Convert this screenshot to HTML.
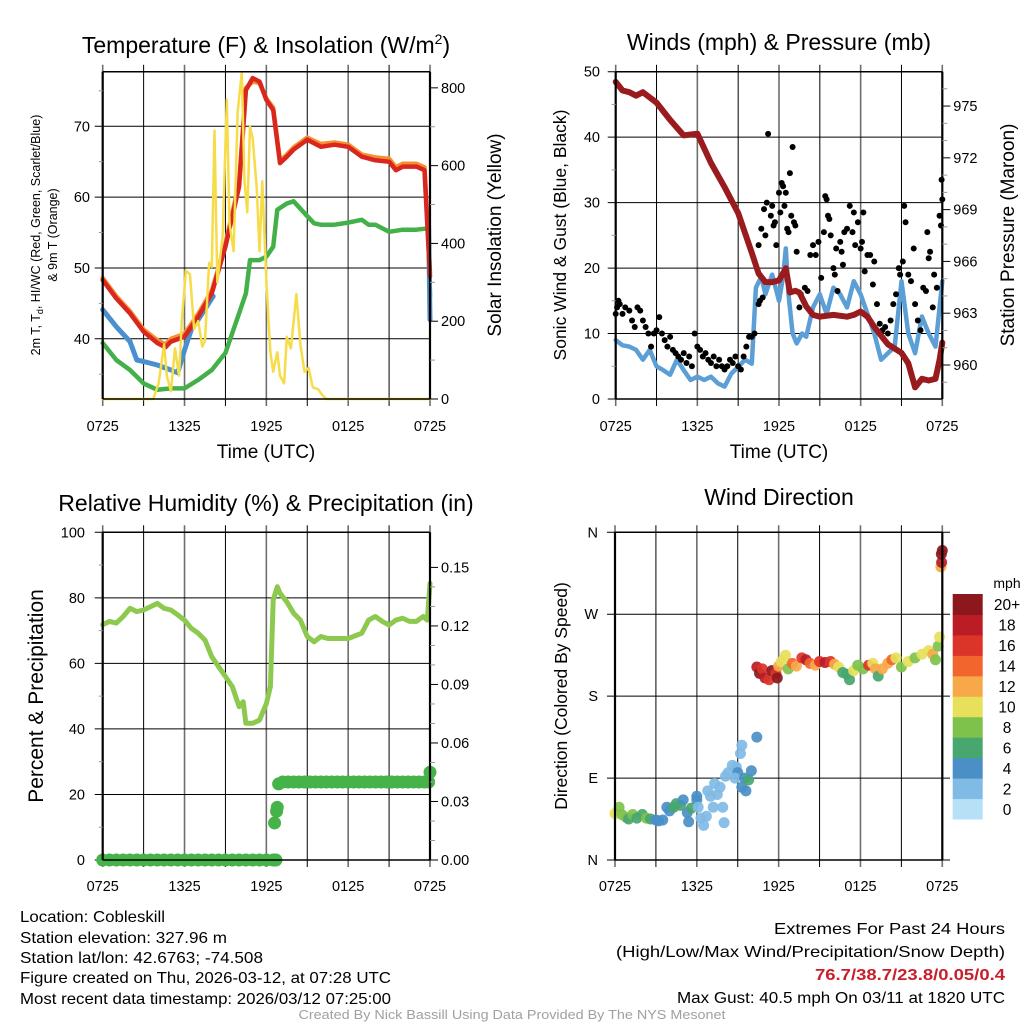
<!DOCTYPE html>
<html><head><meta charset="utf-8"><title>Cobleskill Meteogram</title>
<style>
html,body{margin:0;padding:0;background:#fff;}
svg{display:block;font-family:"Liberation Sans",Arial,sans-serif;}
</style></head>
<body>
<svg id="fig" xmlns="http://www.w3.org/2000/svg" width="1024" height="1024" viewBox="0 0 1024 1024">
<rect x="0" y="0" width="1024" height="1024" fill="#fff"/>
<g id="layer-grid"></g>
<g id="layer-data"></g>
<g id="layer-axes"></g>

<text x="266" y="53" font-size="23" text-anchor="middle">Temperature (F) &amp; Insolation (W/m<tspan dy="-9" font-size="14">2</tspan><tspan dy="9">)</tspan></text>
<text x="779" y="50" font-size="23" text-anchor="middle">Winds (mph) &amp; Pressure (mb)</text>
<text x="266" y="511" font-size="23" text-anchor="middle">Relative Humidity (%) &amp; Precipitation (in)</text>
<text x="779" y="505" font-size="23" text-anchor="middle">Wind Direction</text>

<text x="266" y="458" font-size="19" text-anchor="middle">Time (UTC)</text>
<text x="779" y="458" font-size="19" text-anchor="middle">Time (UTC)</text>

<text transform="translate(40,235) rotate(-90)" font-size="12.5" text-anchor="middle">2m T, T<tspan dy="3" font-size="9">d</tspan><tspan dy="-3">, HI/WC (Red, Green, Scarlet/Blue)</tspan></text>
<text transform="translate(57,235) rotate(-90)" font-size="12.5" text-anchor="middle">&amp; 9m T (Orange)</text>
<text transform="translate(501,235) rotate(-90)" font-size="19" text-anchor="middle">Solar Insolation (Yellow)</text>
<text transform="translate(566,235) rotate(-90)" font-size="17.5" text-anchor="middle">Sonic Wind &amp; Gust (Blue, Black)</text>
<text transform="translate(1014,235) rotate(-90)" font-size="19" text-anchor="middle">Station Pressure (Maroon)</text>
<text transform="translate(43,696) rotate(-90)" font-size="21" text-anchor="middle">Percent &amp; Precipitation</text>
<text transform="translate(567,696) rotate(-90)" font-size="17.5" text-anchor="middle">Direction (Colored By Speed)</text>

<text x="1007" y="588" font-size="14" text-anchor="middle">mph</text>

<g font-size="16">
<text x="20" y="922" textLength="145" lengthAdjust="spacingAndGlyphs">Location: Cobleskill</text>
<text x="20" y="943" textLength="207" lengthAdjust="spacingAndGlyphs">Station elevation: 327.96 m</text>
<text x="20" y="963" textLength="243" lengthAdjust="spacingAndGlyphs">Station lat/lon: 42.6763; -74.508</text>
<text x="20" y="983" textLength="371" lengthAdjust="spacingAndGlyphs">Figure created on Thu, 2026-03-12, at 07:28 UTC</text>
<text x="20" y="1004" textLength="371" lengthAdjust="spacingAndGlyphs">Most recent data timestamp: 2026/03/12 07:25:00</text>
</g>
<g font-size="16" text-anchor="end">
<text x="1005" y="934" textLength="231" lengthAdjust="spacingAndGlyphs">Extremes For Past 24 Hours</text>
<text x="1005" y="957" textLength="389" lengthAdjust="spacingAndGlyphs">(High/Low/Max Wind/Precipitation/Snow Depth)</text>
<text x="1005" y="980" font-weight="bold" fill="#c8202a" textLength="190" lengthAdjust="spacingAndGlyphs">76.7/38.7/23.8/0.05/0.4</text>
<text x="1005" y="1003" textLength="328" lengthAdjust="spacingAndGlyphs">Max Gust: 40.5 mph On 03/11 at 1820 UTC</text>
</g>
<text x="512" y="1019" font-size="13" fill="#a0a0a0" text-anchor="middle" textLength="427" lengthAdjust="spacingAndGlyphs">Created By Nick Bassill Using Data Provided By The NYS Mesonet</text>
</svg>

<script>
// ---------------- DATA (hours since 07:25 UTC) ----------------
var timeTickLabels = ["0725","1325","1925","0125","0725"];

var tempH   = [0,1,2,3,4,4.6,5,6,7,8,9,10,10.5,11,11.5,12,12.5,13,13.5,14,15,16,17,18,19,20,21,21.5,22,23,23.6,24];
var tempRed = [48.3,45.7,43.6,41,39.4,38.8,39.6,40.3,43.1,46.4,53,61.5,75.1,76.8,76.3,73.7,72.3,64.8,65.7,66.7,68.1,67.1,67.4,67.1,65.7,65.2,65,63.8,64.3,64.3,63.8,48.8];
var tempOrange = [48.6,46,43.9,41.3,39.8,39.2,40,40.7,43.5,46.8,53.4,62,75.4,76.3,76.1,73.9,72.6,65.1,66,67,68.4,67.5,67.7,67.4,66,65.6,65.4,64.2,64.7,64.7,64.2,49.3];
var hiwcH   = [0,1,2,2.5,3,4,5,5.5,6,6.5,7,8.1,null,23.9,24];
var hiwcV   = [44.1,41.7,39.6,37,36.8,36.3,35.6,35.2,38.4,41.3,42.7,46,null,55.8,42.7];
var dewH    = [0,1,2,3,4,5,6,7,8,9,10,10.5,10.8,11.5,12,12.5,12.8,13.5,14,15,15.5,16,17,18,19,19.5,20,21,22,23,23.9,24];
var dewV    = [39.4,37,35.6,33.7,32.8,33,33,34.2,35.6,38,43.6,46.4,51.1,51.1,51.6,53,58.2,59.1,59.4,57.3,56.3,56.1,56.1,56.4,56.8,56.1,56.1,55.1,55.4,55.4,55.6,46];
var solarH  = [0,3.7,4.1,4.5,4.7,5,5.3,5.6,5.8,6.1,6.4,6.7,7,7.3,7.5,7.8,8,8.2,8.4,8.8,9.1,9.3,9.6,9.9,10.2,10.4,10.6,10.8,11,11.3,11.5,11.7,12,12.3,12.5,12.8,13,13.3,13.5,13.8,14.2,14.5,14.8,15.1,15.4,15.8,16.1,16.4,24];
var solarV  = [0,0,40,140,60,20,130,60,200,330,320,180,200,135,150,350,340,690,300,420,770,450,380,740,840,560,480,700,670,540,380,560,300,120,70,120,60,40,160,130,270,140,70,80,30,25,10,0,0];

var windH   = [0,0.5,1,1.5,2,2.5,3,3.5,4,4.5,5,5.5,6,6.5,7,7.5,8,8.5,9,9.5,10,10.3,10.7,11,11.5,12,12.3,12.5,12.7,13,13.3,13.7,14,14.5,15,15.5,16,16.5,17,17.5,18,18.5,19,19.5,20,20.5,21,21.5,22,22.5,23,23.5,24];
var windV   = [9,8.2,8,7.5,6,7.5,5,4.4,3.7,6,4.4,2.9,3.4,2.9,3.4,2.4,1.9,3.9,4.9,6,5.4,17,18.7,16,19,15,18.7,23,16,10,8.5,10,9.5,14,16,13,17,16,14,18,16,13,10,6,7,8,18,10,7,12.6,10,8,18];
var gustH   = [0,0.1,0.2,0.3,0.5,0.7,1,1.2,1.4,1.6,1.8,2,2.2,2.4,2.6,2.8,3,3.2,3.4,3.6,3.8,4,4.2,4.4,4.6,4.8,5,5.2,5.4,5.6,5.8,6,6.2,6.4,6.6,6.8,7,7.2,7.4,7.6,7.8,8,8.2,8.4,8.6,8.8,9,9.2,9.4,9.6,9.8,10,10.2,10.5,10.6,10.8,10.5,10.7,10.9,11,11.1,11.2,11.4,11.5,11.6,11.7,11.8,12,12.1,12.2,12.3,12.4,12.5,12.6,12.7,12.8,12.9,13,13.1,13.2,13.3,13.5,13.6,13.9,14.1,14.3,14.5,14.7,14.9,15.1,15.3,15.4,15.5,15.6,15.7,15.8,16,16.1,16.2,16.3,16.5,16.6,16.7,16.8,17,17.2,17.4,17.5,17.6,17.8,18,18.1,18.2,18.3,18.5,18.7,18.9,19,19.2,19.4,19.6,19.8,20,20.2,20.4,20.6,20.8,20.9,21.1,21.2,21.3,21.5,21.7,21.9,22,22.2,22.4,22.6,22.8,22.9,23,23.1,23.3,23.4,23.6,23.8,23.9,23.95,24];
var gustV   = [13,14,15,14.5,13,14,13.5,12,11,14,13.5,12,11,10,8,10,10.5,12.5,10,9,8,9.5,7.5,7,6.5,6,7,5.5,6.5,5,10,8,7.5,6.5,7,6,5.5,6.5,5,6,5,4.5,5,6,5.5,6.5,5,4.5,6.5,8,9.5,9.5,10,14.5,15,15.5,23.5,26,29,25,30,40.5,28,29.5,26.5,27,23.5,31.5,28.5,33,32.5,29.5,31.5,26,25.5,34.5,28,38.5,27,26.5,22.5,14,16,17,16.5,22,23.5,22,24,18.5,25.5,31,30.5,28,27.5,25,20,19,23,16.5,24,22.5,20.5,25.5,26,29.5,25.5,28.5,23.5,27,23,24,28.5,19.5,22,22,17.5,21,14.5,11.5,10.5,11,10,12,14.5,16,20,19,21,29.5,27,19,18,23,14.5,12,10.5,17,16.5,25.5,21.5,22.5,14,19,17,28,26.5,33.5,30.5];
var presH   = [0,0.5,1,1.5,2,3,4,5,6,7,8,9,10,10.5,11,11.5,12,12.5,12.8,13.2,13.5,14,14.5,15,16,17,17.5,18,18.5,19,20,21,21.5,22,22.5,23,23.5,23.8,24];
var presV   = [976.4,975.9,975.8,975.6,975.8,975.2,974.2,973.3,973.4,971.7,970.3,968.8,966.5,965.3,964.8,964.8,964.9,965.6,964.2,964.3,964.2,963.4,962.9,962.8,962.9,962.8,962.9,963.1,962.8,962.2,961.2,960.7,960.1,958.7,959.2,959.1,959.2,960.3,961.3];

var rhH     = [0,0.5,1,1.5,2,2.5,3,3.5,4,4.5,5,5.5,6,6.5,7,7.5,8,8.5,9,9.5,10,10.3,10.5,11,11.5,12,12.3,12.5,12.8,13,13.5,14,14.5,15,15.5,16,16.5,17,18,19,19.5,20,20.5,21,21.5,22,22.5,23,23.5,23.8,24];
var rhV     = [71.8,72.8,72.3,74.3,76.8,75.8,76.3,77.3,78.3,76.8,76.3,74.8,73.2,70.7,69.2,67.1,62,59,56,52.9,46.8,48.3,41.7,41.7,42.7,47.8,52.9,79.3,83.4,81.4,78.8,75.3,73.2,68.2,66.6,68.2,67.6,67.6,67.6,69.2,73.2,74.3,72.8,71.7,73.2,73.8,72.8,72.8,74.3,73.2,84.4];
var precipH = [0,0.5,1,1.5,2,2.5,3,3.5,4,4.5,5,5.5,6,6.5,7,7.5,8,8.5,9,9.5,10,10.5,11,11.5,12,12.5,12.7,12.6,12.75,12.8,12.9,13.2,13.6,14,14.4,14.8,15.2,15.6,16,16.4,16.8,17.2,17.6,18,18.4,18.8,19.2,19.6,20,20.4,20.8,21.2,21.6,22,22.4,22.8,23.2,23.6,23.9,24];
var precipV = [0,0,0,0,0,0,0,0,0,0,0,0,0,0,0,0,0,0,0,0,0,0,0,0,0,0,0,0.019,0.025,0.027,0.039,0.04,0.04,0.04,0.04,0.04,0.04,0.04,0.04,0.04,0.04,0.04,0.04,0.04,0.04,0.04,0.04,0.04,0.04,0.04,0.04,0.04,0.04,0.04,0.04,0.04,0.04,0.04,0.04,0.045];

var dirH    = [0,0.3,0.5,0.8,1,1.3,1.6,2,2.3,2.6,3,3.2,3.5,3.8,4,4.3,4.5,4.8,5,5.3,5.4,5.6,6,6,6.1,6.3,6.5,6.7,6.8,7,7.2,7.3,7.5,7.7,7.9,8,8.1,8.3,8.6,8.9,9,8.8,9.3,9.5,9.6,9.8,10,9.2,9.3,10.4,10.4,10.6,10.8,11,11.3,11.5,11.8,11.9,12,12.2,12.5,12.7,13,13.3,13.7,14,14.3,14.7,15,15.4,15.8,16.1,16.4,16.7,17,17.2,17.5,17.8,18.2,18.6,18.9,19.1,19.3,19.6,20,20.3,20.6,21,21.5,22,22.5,23,23.3,23.5,23.7,23.8,23.9,23.95,24,23.93];
var dirV    = [51,58,50,47,45,50,46,50,46,45,44,43,44,58,54,58,62,60,66,52,42,57,66,70,58,46,38,48,76,70,58,84,72,80,58,41,92,96,104,102,96,90,80,90,76,88,98,117,126,135,212,205,210,200,198,208,205,200,213,218,225,210,216,213,222,220,216,214,218,217,218,215,212,206,204,198,208,214,210,214,216,210,202,210,216,220,222,212,218,222,226,230,226,220,235,245,322,327,340,336];
var dirSpd  = [10,8,8,8,7,8,7,6,8,6,4,4,4,4,4,6,6,6,4,4,4,6,4,4,2,2,2,2,2,2,2,2,2,2,2,2,2,2,2,2,4,2,4,4,4,6,4,2,2,4,18,20,16,18,16,20,16,20,12,10,10,8,14,12,16,18,14,12,16,18,16,12,10,6,6,6,10,8,8,16,10,12,6,12,12,14,10,8,10,8,10,10,12,8,8,10,12,18,20,20];
var speedBinLabels = ["0","2","4","6","8","10","12","14","16","18","20+"];
var speedBinColors = ["#b5e0f6","#80bbe5","#4a8fc6","#48a66f","#7ec24c","#e6e05a","#f7a848","#f2652d","#dc3428","#bb1d26","#8c171c"];

// ---------------- HELPERS ----------------
var SVGNS = "http://www.w3.org/2000/svg";
var gGrid = document.getElementById("layer-grid");
var gData = document.getElementById("layer-data");
var gAxes = document.getElementById("layer-axes");
function mk(tag, attrs, parent){
  var e = document.createElementNS(SVGNS, tag);
  for (var k in attrs) { e.setAttribute(k, String(attrs[k])); }
  parent.appendChild(e);
  return e;
}
function mkPanel(x0,x1,y0,y1){ return {x0:x0,x1:x1,y0:y0,y1:y1}; }
var P1 = mkPanel(102.7,430,71.7,399);
var P2 = mkPanel(615.7,942.3,71.7,399);
var P3 = mkPanel(102.7,430,532.3,860);
var P4 = mkPanel(615,942.3,532.3,860);
function xs(p,h){ return p.x0 + (p.x1-p.x0)*h/24; }
function ys(p,v,lo,hi){ return p.y1 - (v-lo)/(hi-lo)*(p.y1-p.y0); }
var T_LO=31.5, T_HI=77.7, S_LO=0, S_HI=841.5, W_LO=0, W_HI=50, PR_LO=958.03, PR_HI=976.99, RH_LO=0, RH_HI=100, PC_LO=0, PC_HI=0.168, D_LO=0, D_HI=360;

function pathFrom(p, hs, vs, lo, hi){
  var d = "", pen = false;
  for (var i=0;i<hs.length;i++){
    if (hs[i]===null || vs[i]===null){ pen=false; continue; }
    d += (pen?"L":"M") + xs(p,hs[i]).toFixed(1) + " " + ys(p,vs[i],lo,hi).toFixed(1) + " ";
    pen = true;
  }
  return d;
}

// ---------------- GRID & AXES ----------------
function timeAxis(p, yLab){
  for (var k=0;k<=8;k++){
    var x = p.x0 + (p.x1-p.x0)*k/8;
    var major = (k%2===0);
    var gl = mk("line",{x1:x,x2:x,y1:p.y0-7,y2:p.y1+7,stroke:major?"#6e6e6e":"#000","stroke-width":major?1.6:1},gGrid);
    
    
    if (major){
      var t = mk("text",{x:x,y:yLab,"font-size":14.5,"text-anchor":"middle"},gAxes);
      t.textContent = timeTickLabels[k/2];
      
      
    }
  }
  var bTop = mk("line",{x1:p.x0,x2:p.x1,y1:p.y0,y2:p.y0,stroke:"#000","stroke-width":1.5},gAxes);
  
  
  var bBot = mk("line",{x1:p.x0,x2:p.x1,y1:p.y1,y2:p.y1,stroke:"#000","stroke-width":1.5},gAxes);
  
  
  var bL = mk("line",{x1:p.x0,x2:p.x0,y1:p.y0,y2:p.y1,stroke:"#000","stroke-width":2.2},gAxes);
  
  
  var bR = mk("line",{x1:p.x1,x2:p.x1,y1:p.y0,y2:p.y1,stroke:"#000","stroke-width":2.2},gAxes);
  
  
}
function leftAxis(p, lo, hi, majors, labels, minors, gridRight, labX){
  for (var i=0;i<majors.length;i++){
    var y = ys(p,majors[i],lo,hi);
    var gl = mk("line",{x1:p.x0-8,x2:gridRight,y1:y,y2:y,stroke:"#000","stroke-width":1},gGrid);
    
    
    var t = mk("text",{x:labX,y:y+5,"font-size":14.5,"text-anchor":"end"},gAxes);
    t.textContent = labels[i];
    
    
  }
  for (var j=0;j<minors.length;j++){
    var ym = ys(p,minors[j],lo,hi);
    var tk = mk("line",{x1:p.x0-4,x2:p.x0,y1:ym,y2:ym,stroke:"#999","stroke-width":1},gAxes);
    
    
  }
}
function rightAxis(p, lo, hi, majors, labels, minors){
  for (var i=0;i<majors.length;i++){
    var y = ys(p,majors[i],lo,hi);
    var tk = mk("line",{x1:p.x1,x2:p.x1+8,y1:y,y2:y,stroke:"#000","stroke-width":1},gAxes);
    
    
    var t = mk("text",{x:p.x1+11,y:y+5,"font-size":14.5,"text-anchor":"start"},gAxes);
    t.textContent = labels[i];
    
    
  }
  for (var j=0;j<minors.length;j++){
    var ym = ys(p,minors[j],lo,hi);
    var tm = mk("line",{x1:p.x1,x2:p.x1+5,y1:ym,y2:ym,stroke:"#999","stroke-width":1},gAxes);
    
    
  }
}

try {
timeAxis(P1, 431); timeAxis(P2, 431); timeAxis(P3, 891); timeAxis(P4, 891);
leftAxis(P1,T_LO,T_HI,[40,50,60,70],["40","50","60","70"],[35,45,55,65,75],P1.x1,90);
rightAxis(P1,S_LO,S_HI,[0,200,400,600,800],["0","200","400","600","800"],[100,300,500,700]);
leftAxis(P2,W_LO,W_HI,[0,10,20,30,40,50],["0","10","20","30","40","50"],[5,15,25,35,45],P2.x1,600);
rightAxis(P2,PR_LO,PR_HI,[960,963,966,969,972,975],["960","963","966","969","972","975"],[959,961,962,964,965,967,968,970,971,973,974,976]);
leftAxis(P3,RH_LO,RH_HI,[0,20,40,60,80,100],["0","20","40","60","80","100"],[10,30,50,70,90],P3.x1,85);
rightAxis(P3,PC_LO,PC_HI,[0,0.03,0.06,0.09,0.12,0.15],["0.00","0.03","0.06","0.09","0.12","0.15"],[0.01,0.02,0.04,0.05,0.07,0.08,0.1,0.11,0.13,0.14]);
leftAxis(P4,D_LO,D_HI,[0,90,180,270,360],["N","E","S","W","N"],[],950,598);
} catch(err) {}

// ---------------- SERIES ----------------
function drawLine(p,hs,vs,lo,hi,color,w,name){
  var e = mk("path",{d:pathFrom(p,hs,vs,lo,hi),fill:"none",stroke:color,"stroke-width":w,"stroke-linejoin":"round","stroke-linecap":"round"},gData);
  
  
}
try {
drawLine(P1,tempH,tempOrange,T_LO,T_HI,"#f6902e",4.5,"9m-temperature-line");
drawLine(P1,dewH,dewV,T_LO,T_HI,"#43b049",4.5,"dewpoint-line");
drawLine(P1,hiwcH,hiwcV,T_LO,T_HI,"#4a90cf",5,"heat-index-windchill-line");
drawLine(P1,tempH,tempRed,T_LO,T_HI,"#d9261f",4.5,"2m-temperature-line");
drawLine(P1,solarH,solarV,S_LO,S_HI,"#f7dc4a",2.5,"solar-insolation-line");
} catch(err) {}
try {
drawLine(P2,windH,windV,W_LO,W_HI,"#5b9fd6",4.5,"sonic-wind-line");
for (var i=0;i<gustH.length;i++){
  var gc = mk("circle",{cx:xs(P2,gustH[i]),cy:ys(P2,gustV[i],W_LO,W_HI),r:3,fill:"#000"},gData);
  
  
}
drawLine(P2,presH,presV,PR_LO,PR_HI,"#9a1b1e",6,"station-pressure-line");
} catch(err) {}
try {
drawLine(P3,rhH,rhV,RH_LO,RH_HI,"#8dc94e",5,"relative-humidity-line");
for (var i2=0;i2<precipH.length;i2++){
  var pc = mk("circle",{cx:xs(P3,precipH[i2]),cy:ys(P3,precipV[i2],PC_LO,PC_HI),r:6.5,fill:"#45b347"},gData);
  
  
}
} catch(err) {}
function binOf(s){ return Math.min(10, Math.max(0, Math.floor(s/2))); }
try {
for (var i3=0;i3<dirH.length;i3++){
  var dc = mk("circle",{cx:xs(P4,dirH[i3]),cy:ys(P4,dirV[i3],D_LO,D_HI),r:5.5,fill:speedBinColors[binOf(dirSpd[i3])],"fill-opacity":0.92},gData);
  
  
}
var cbX=952.7, cbW=30, cbTop=594, cbBot=819;
var cbH=(cbBot-cbTop)/speedBinLabels.length;
for (var k=0;k<speedBinLabels.length;k++){
  var yb = cbBot - (k+1)*cbH;
  var rb = mk("rect",{x:cbX,y:yb,width:cbW,height:cbH+0.5,fill:speedBinColors[k]},gAxes);
  
  
  var tb = mk("text",{x:1007,y:yb+cbH/2+6,"font-size":15.5,"text-anchor":"middle"},gAxes);
  tb.textContent = speedBinLabels[k];
  
  
}
} catch(err) {}
</script>
</body></html>
